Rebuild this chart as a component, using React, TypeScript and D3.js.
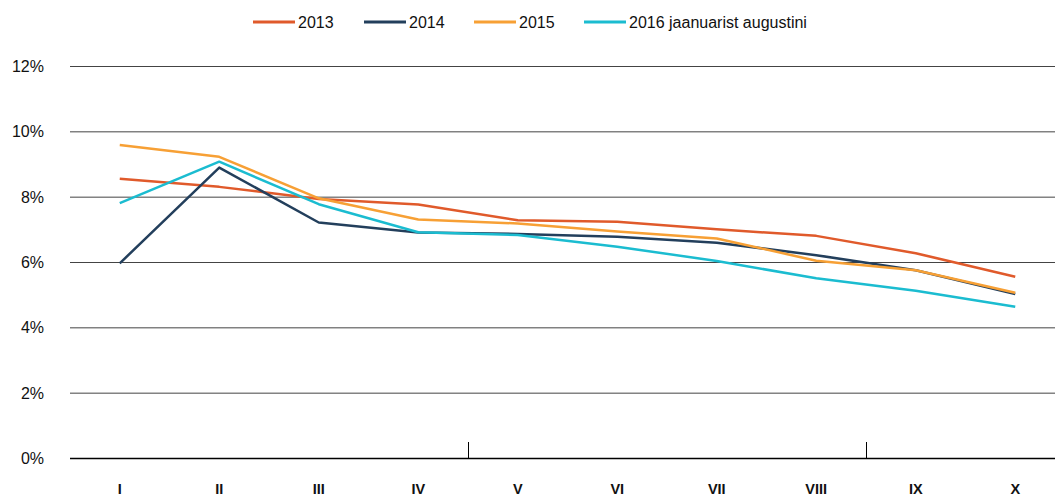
import * as d3 from "d3";
import { useRef, useEffect } from "react";

const months = ["I", "II", "III", "IV", "V", "VI", "VII", "VIII", "IX", "X"];
const yTicks = [0, 2, 4, 6, 8, 10, 12];

const s2013 = [8.55, 8.3, 7.93, 7.76, 7.28, 7.23, 7.0, 6.8, 6.27, 5.55];
const s2014 = [5.96, 8.89, 7.21, 6.9, 6.86, 6.77, 6.59, 6.21, 5.75, 5.02];
const s2015 = [9.58, 9.22, 7.95, 7.3, 7.18, 6.93, 6.72, 6.04, 5.75, 5.06];
const s2016 = [7.8, 9.07, 7.77, 6.91, 6.83, 6.47, 6.03, 5.5, 5.12, 4.63];

const seriesNames = ["2013", "2014", "2015", "2016 jaanuarist augustini"];
const seriesColors = ["#e05a2b", "#233f5c", "#f7a035", "#1bbcd0"];
const seriesValues = [s2013, s2014, s2015, s2016];
// band boundaries where the reference shows small ticks
const extraTicks = ["V", "IX"];

export default function App() {
  const ref = useRef<SVGSVGElement>(null);

  useEffect(() => {
    if (!ref.current) return;
    const svg = d3.select(ref.current);
    svg.selectAll("*").remove();

    const W = 1055;
    const left = 70;
    const bandW = 99.5;

    const x = d3
      .scaleBand()
      .domain(months)
      .range([left, left + bandW * months.length]);
    const y = d3.scaleLinear().domain([0, 12]).range([458, 66]);

    const font = "'Liberation Sans', Arial, sans-serif";

    // gridlines
    svg
      .append("g")
      .selectAll("line")
      .data(yTicks)
      .enter()
      .append("line")
      .attr("x1", left)
      .attr("x2", W)
      .attr("y1", (d) => y(d) + 0.5)
      .attr("y2", (d) => y(d) + 0.5)
      .attr("stroke", (d) => (d === 0 ? "#000" : "#444"))
      .attr("stroke-width", (d) => (d === 0 ? 1.5 : 1));

    // y labels
    svg
      .append("g")
      .selectAll("text")
      .data(yTicks)
      .enter()
      .append("text")
      .attr("x", 44)
      .attr("y", (d) => y(d) + 6)
      .attr("text-anchor", "end")
      .attr("font-family", font)
      .attr("font-size", 16)
      .attr("fill", "#111")
      .text((d) => `${d}%`);

    // small ticks
    svg
      .append("g")
      .selectAll("line")
      .data(extraTicks)
      .enter()
      .append("line")
      .attr("x1", (d) => Math.round(x(d) || 0) + 0.5)
      .attr("x2", (d) => Math.round(x(d) || 0) + 0.5)
      .attr("y1", 442)
      .attr("y2", 458)
      .attr("stroke", "#000")
      .attr("stroke-width", 1);

    // x labels
    svg
      .append("g")
      .selectAll("text")
      .data(months)
      .enter()
      .append("text")
      .attr("x", (d) => (x(d) || 0) + x.bandwidth() / 2)
      .attr("y", 494)
      .attr("text-anchor", "middle")
      .attr("font-family", font)
      .attr("font-size", 14.5)
      .attr("font-weight", "bold")
      .attr("fill", "#111")
      .text((d) => d);

    const line = d3
      .line<number>()
      .x((_, i) => (x(months[i]) || 0) + x.bandwidth() / 2)
      .y((d) => y(d));

    seriesValues.forEach((vals, i) => {
      svg
        .append("path")
        .datum(vals)
        .attr("fill", "none")
        .attr("stroke", seriesColors[i])
        .attr("stroke-width", 2.5)
        .attr("stroke-linejoin", "round")
        .attr("d", line);
    });

    // legend
    const legendX = [253, 364, 474, 584];
    const lg = svg.append("g");
    seriesNames.forEach((name, i) => {
      lg.append("line")
        .attr("x1", legendX[i])
        .attr("x2", legendX[i] + 42)
        .attr("y1", 22)
        .attr("y2", 22)
        .attr("stroke", seriesColors[i])
        .attr("stroke-width", 3);
      lg.append("text")
        .attr("x", legendX[i] + 45)
        .attr("y", 28)
        .attr("font-family", font)
        .attr("font-size", 16)
        .attr("fill", "#111")
        .text(name);
    });
  }, []);

  return (
    <svg
      ref={ref}
      width={1055}
      height={498}
      style={{ position: "absolute", left: 0, top: 0, background: "#fff" }}
    />
  );
}
